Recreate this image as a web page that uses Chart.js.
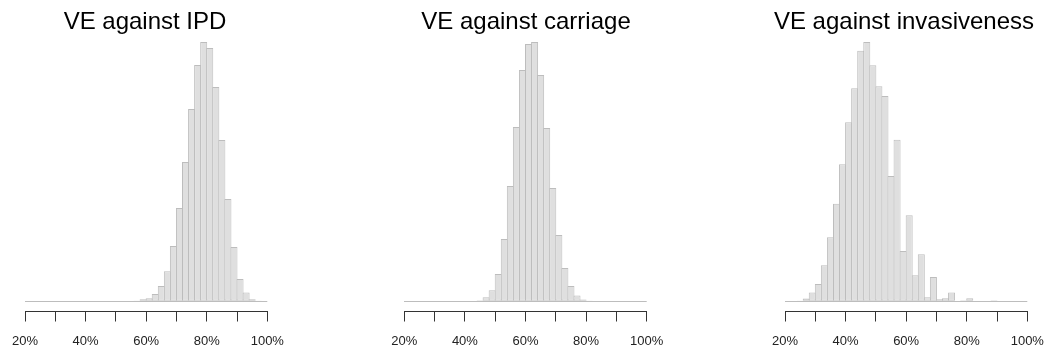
<!DOCTYPE html>
<html>
<head>
<meta charset="utf-8">
<script src="https://cdn.jsdelivr.net/npm/chart.js@4.4.1/dist/chart.umd.min.js"></script>
<style>
  body { margin: 0; background: #fff; width: 1045px; height: 351px; position: relative; overflow: hidden; font-family: "Liberation Sans", Arial, sans-serif; }
  canvas { position: absolute; top: 0; }
  .title { position: absolute; top: 9px; font-size: 24px; line-height: 24px; white-space: nowrap; transform: translateX(-50%); color: #000; }
</style>
</head>
<body>
<canvas id="ipd" width="350" height="351" style="left:0px"></canvas>
<canvas id="carriage" width="350" height="351" style="left:350px"></canvas>
<canvas id="invasive" width="380" height="351" style="left:700px"></canvas>
<div class="title" style="left:145px">VE against IPD</div>
<div class="title" style="left:526px">VE against carriage</div>
<div class="title" style="left:904px">VE against invasiveness</div>
<script>
// bin centres (2% wide bins from 20% to 100%)
const binMids = [21, 23, 25, 27, 29, 31, 33, 35, 37, 39, 41, 43, 45, 47, 49, 51, 53, 55, 57, 59,
                 61, 63, 65, 67, 69, 71, 73, 75, 77, 79, 81, 83, 85, 87, 89, 91, 93, 95, 97, 99];

// counts per bin
const ipdCounts = [0, 0, 0, 0, 0, 0, 0, 0, 0, 0, 0, 0, 0, 0, 0, 0, 0, 0, 3, 8,
                   12, 29, 60, 119, 220, 372, 556, 768, 944, 1036, 1012, 856, 644, 408, 216, 88, 35, 8, 3, 0];
const carriageCounts = [0, 0, 0, 0, 0, 0, 0, 0, 0, 0, 0, 2, 4, 16, 44, 108, 248, 460, 696, 924,
                        1028, 1036, 904, 692, 452, 264, 132, 60, 23, 7, 3, 0, 0, 0, 0, 0, 0, 0, 0, 0];
const invasiveCounts = [0, 0, 3, 11, 35, 68, 143, 255, 389, 547, 715, 851, 1001, 1036, 943, 859, 820, 500, 645, 200,
                        343, 103, 187, 16, 96, 8, 12, 35, 0, 4, 12, 0, 0, 0, 4, 0, 0, 0, 0, 0];

const tickValues = [20, 30, 40, 50, 60, 70, 80, 90, 100];
const tickLabels = ['20%', '', '40%', '', '60%', '', '80%', '', '100%'];

const fontFamily = '"Liberation Sans", Arial, sans-serif';

function drawHist(id, counts, padLeft, padRight) {
    const peak = Math.max(...counts);
    new Chart(document.getElementById(id), {
        type: "bar",
        data: {
            datasets: [{
                data: binMids.map((x, i) => ({ x: x, y: counts[i] })),
                backgroundColor: "#dfdfdf",
                borderColor: "#bdbdbd",
                borderWidth: 1,
                borderSkipped: false,
                barPercentage: 1.16,
                categoryPercentage: 1
            }]
        },
        options: {
            responsive: false,
            animation: false,
            layout: { padding: { left: padLeft, right: padRight, top: 31.6, bottom: 0 } },
            plugins: { legend: { display: false }, tooltip: { enabled: false } },
            scales: {
                x: {
                    type: "linear",
                    min: 20,
                    max: 100,
                    offset: false,
                    afterBuildTicks: s => { s.ticks = tickValues.map(v => ({ value: v })); },
                    afterFit: s => { s.height = 39.5; },
                    ticks: {
                        callback: (v, i) => tickLabels[i],
                        font: { family: fontFamily, size: 13 },
                        color: "#222",
                        padding: 12,
                        maxRotation: 0,
                        autoSkip: false
                    },
                    grid: { offset: false, drawOnChartArea: false, tickLength: 10, color: "#333" },
                    border: { color: "#333" }
                },
                y: {
                    min: -0.04 * peak,
                    max: 1.04 * peak,
                    afterBuildTicks: s => { s.ticks = [{ value: 0 }]; },
                    afterFit: s => { s.width = 0; },
                    ticks: { display: false },
                    grid: { color: "#bdbdbd", drawTicks: false },
                    border: { display: false }
                }
            }
        }
    });
}

drawHist("ipd", ipdCounts, 25, 82.7);
drawHist("carriage", carriageCounts, 54.3, 53.3);
drawHist("invasive", invasiveCounts, 85, 52.7);
</script>
</body>
</html>
